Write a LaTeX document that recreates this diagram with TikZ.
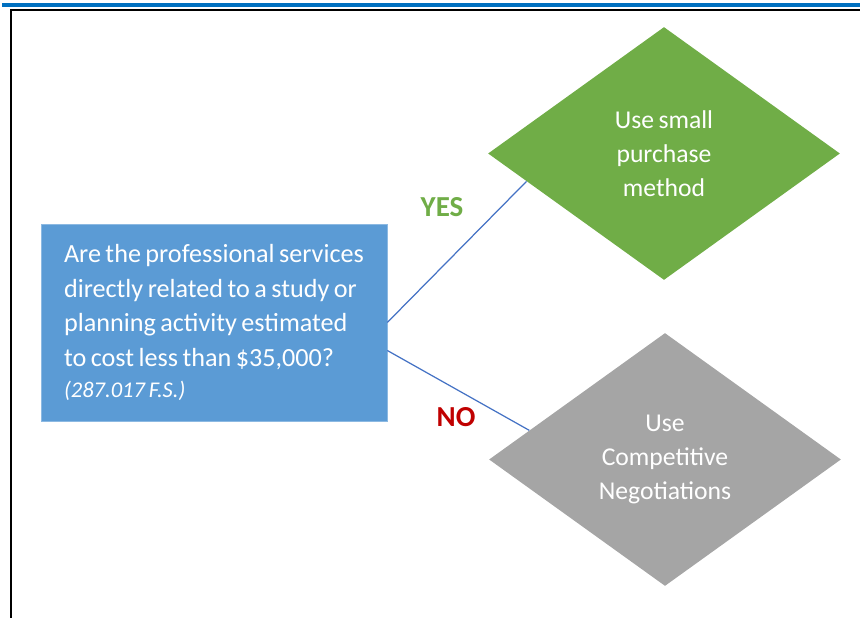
\documentclass[tikz,border=0pt]{standalone}
\usepackage{fontspec}
\setmainfont{Carlito}[WordSpace=0.75]
\usetikzlibrary{shapes.geometric,calc}
\definecolor{boxblue}{HTML}{5B9BD5}
\definecolor{leafgreen}{HTML}{70AD47}
\definecolor{leafgray}{HTML}{A5A5A5}
\definecolor{linkblue}{HTML}{4472C4}
\definecolor{nored}{HTML}{C00000}
\definecolor{titleblue}{HTML}{0070C0}
\begin{document}
\begin{tikzpicture}[x=0.02cm, y=-0.02cm,
  leaf/.style={diamond, minimum width=7.04cm, minimum height=5.06cm, aspect=1.39, inner sep=0pt, text=white, align=center, font=\fontsize{14.6}{19.3}\selectfont},
  link/.style={linkblue, line width=0.7pt},
  answer/.style={font=\fontsize{16.5}{18}\selectfont\bfseries}]
\useasboundingbox (0,0) rectangle (860,618);
\fill[titleblue] (2,3) rectangle (860,7);
\draw[line width=1.2pt] (11,618) -- (11,10) -- (860,10);
\node[fill=boxblue, draw=boxblue!70!white, minimum width=6.92cm, minimum height=3.94cm, align=left, text=white, font=\fontsize{14.9}{19.8}\selectfont] (question) at (214,322.5)
  {Are the professional services\\ directly related to a study or\\ planning activity estimated\\ to cost less than \$35,000?\\[-2pt] {\fontsize{12.8}{14}\selectfont\itshape (287.017 F.S.)}};
\node[leaf, fill=leafgreen] (small) at (664,153.5) {Use small\\purchase\\method};
\node[leaf, fill=leafgray] (compete) at (665,459.5) {Use\\Competitive\\Negotiations};
\draw[link] (question.east) -- ($(small.west)!0.22!(small.south)$);
\draw[link] ([yshift=-0.56cm]question.east) -- ($(compete.west)!0.23!(compete.north)$);
\node[leafgreen, answer] (yes) at (442,207) {YES};
\node[nored, answer] (no) at (456,417) {NO};
\end{tikzpicture}
\end{document}
